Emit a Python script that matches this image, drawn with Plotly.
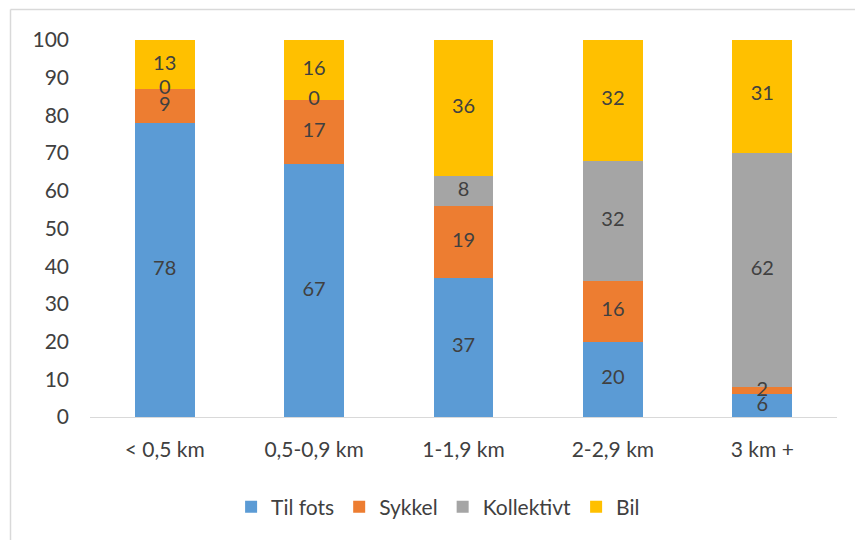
import plotly.graph_objects as go

categories = ["< 0,5 km", "0,5-0,9 km", "1-1,9 km", "2-2,9 km", "3 km +"]
series_names = ["Til fots", "Sykkel", "Kollektivt", "Bil"]
til_fots = [78, 67, 37, 20, 6]
sykkel = [9, 17, 19, 16, 2]
kollektivt = [0, 0, 8, 32, 62]
bil = [13, 16, 36, 32, 31]
y_ticks = [0, 10, 20, 30, 40, 50, 60, 70, 80, 90, 100]

colors = ["#5B9BD5", "#ED7D31", "#A5A5A5", "#FFC000"]
series = [til_fots, sykkel, kollektivt, bil]
FONT = "Lato, Open Sans, sans-serif"
TXT = "#404040"

fig = go.Figure()
for name, vals, col in zip(series_names, series, colors):
    fig.add_trace(go.Bar(name=name, x=categories, y=vals, marker=dict(color=col, line=dict(width=0)),
                         hoverinfo="skip"))

# labels at the middle of each segment
lx, ly, lt = [], [], []
for i, c in enumerate(categories):
    base = 0
    for vals in series:
        v = vals[i]
        lx.append(c)
        ly.append(base + v / 2)
        lt.append(str(v))
        base += v
fig.add_trace(go.Scatter(x=lx, y=ly, text=lt, mode="text", showlegend=False, hoverinfo="skip",
                         textfont=dict(family=FONT, size=20, color=TXT), cliponaxis=False))

fig.update_layout(
    barmode="stack",
    bargap=0.6,
    width=855, height=540,
    margin=dict(l=90, r=18, t=40, b=123),
    paper_bgcolor="white", plot_bgcolor="white",
    font=dict(family=FONT, size=21, color=TXT),
    legend=dict(orientation="h", x=0.466, xanchor="center", y=-0.239, yanchor="middle",
                font=dict(family=FONT, size=21, color=TXT), traceorder="normal"),
    xaxis=dict(showline=True, linecolor="#D9D9D9", linewidth=1, showgrid=False, ticks="",
               ticklabelstandoff=14, tickfont=dict(size=21, color=TXT)),
    yaxis=dict(range=[0, 100], tickvals=y_ticks, showgrid=False, zeroline=False, showline=False,
               ticks="", ticklabelstandoff=20, tickfont=dict(size=21, color=TXT)),
    shapes=[
        dict(type="line", xref="paper", yref="paper", x0=(10.5 - 90) / 747, x1=(860 - 90) / 747,
             y0=(417 - 9.5) / 377, y1=(417 - 9.5) / 377, line=dict(color="#D9D9D9", width=1.5)),
        dict(type="line", xref="paper", yref="paper", x0=(10.5 - 90) / 747, x1=(10.5 - 90) / 747,
             y0=(417 - 9.5) / 377, y1=(417 - 545) / 377, line=dict(color="#D9D9D9", width=1.5)),
    ],
)

fig.write_html("out.html", config={"displayModeBar": False},
               post_script="document.body.style.margin='0px';")
